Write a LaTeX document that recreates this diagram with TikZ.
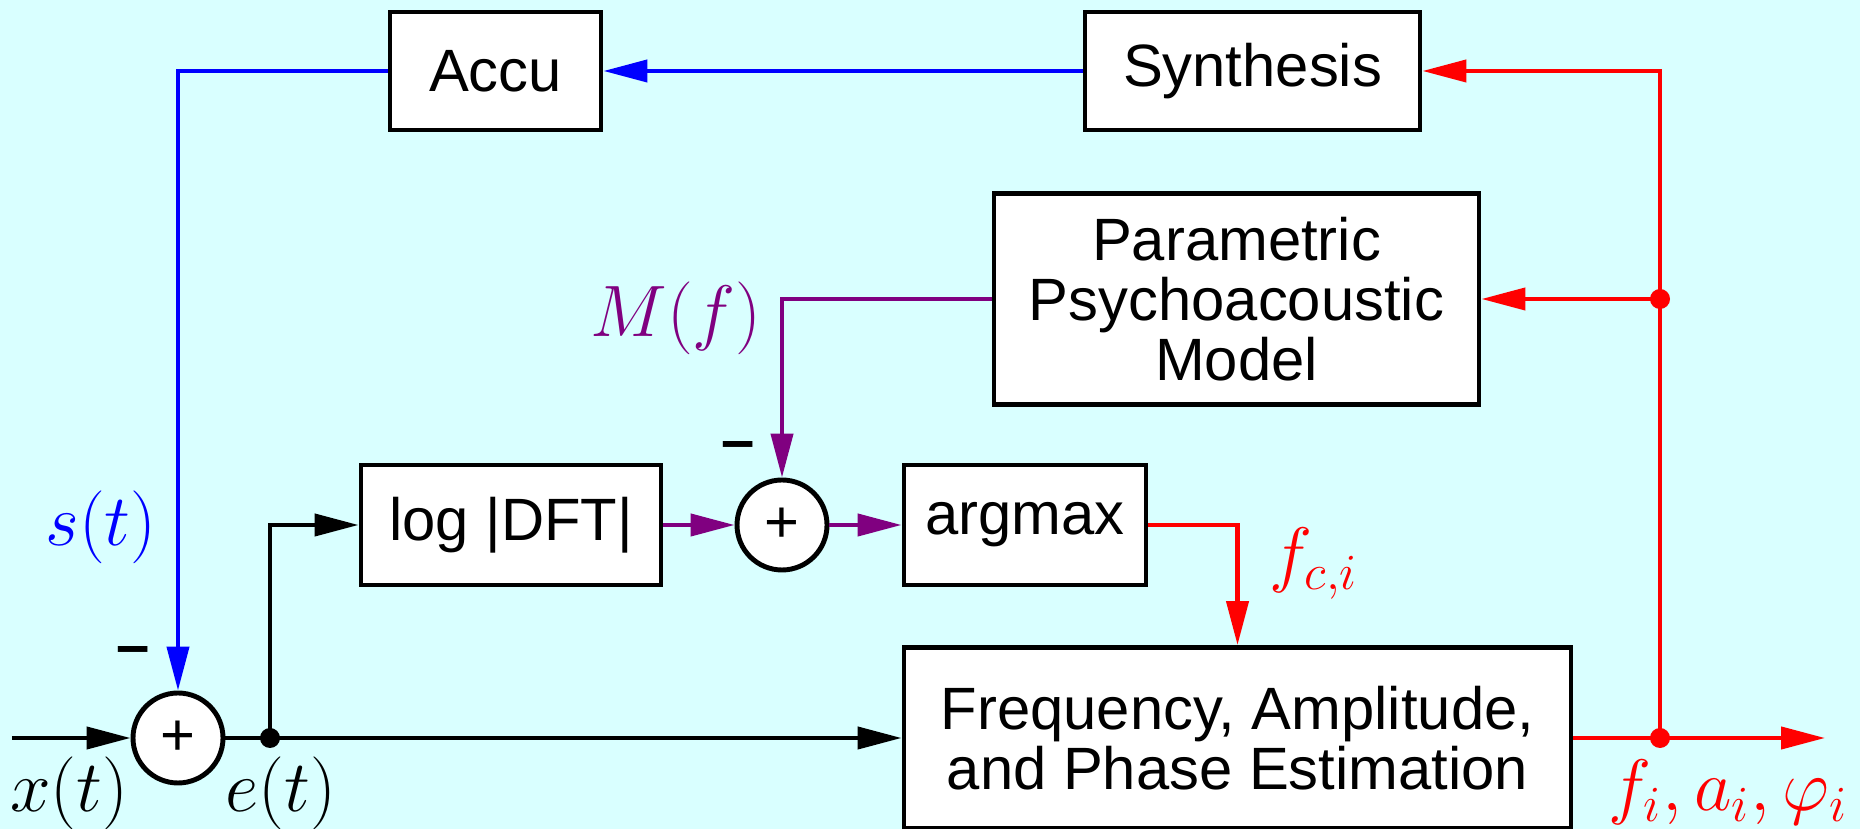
\documentclass[tikz,border=0pt]{standalone}
\usepackage{amsmath}
\usepackage[no-math]{fontspec}
\setmainfont{Liberation Sans}
\usetikzlibrary{arrows.meta,calc}
\definecolor{bgcyan}{RGB}{217,255,255}
\definecolor{sigpurple}{RGB}{128,0,128}

\begin{document}
\begin{tikzpicture}[>={Triangle[length=4.4mm,width=2.2mm]}, line width=1.2pt,
  font=\fontsize{17}{17}\selectfont,
  block/.style={draw, fill=white, line width=1.4pt, inner sep=0pt, align=center},
  summer/.style={draw, fill=white, circle, line width=1.4pt, minimum size=0.9cm, inner sep=0pt},
  lbl/.style={font=\fontsize{19.5}{20}\selectfont}]
\fill[bgcyan] (0,0) rectangle (18.6,8.29);
\useasboundingbox (0,0) rectangle (18.6,8.29);
\node[block, minimum width=2.11cm, minimum height=1.18cm] (accu) at (4.955,7.58) {Accu};
\node[block, minimum width=3.35cm, minimum height=1.18cm] (synth) at (12.525,7.58) {Synthesis};
\node[block, minimum width=4.85cm, minimum height=2.11cm] (psy) at (12.365,5.30) {Parametric\\Psychoacoustic\\Model};
\node[block, minimum width=3.0cm, minimum height=1.2cm] (dft) at (5.11,3.04) {log |DFT|};
\node[summer] (sum2) at (7.82,3.04) {+};
\node[block, minimum width=2.42cm, minimum height=1.2cm] (amax) at (10.25,3.04) {argmax};
\node[block, minimum width=6.67cm, minimum height=1.81cm] (est) at (12.375,0.91) {Frequency, Amplitude,\\and Phase Estimation};
\node[summer] (sum1) at (1.78,0.91) {+};
\coordinate (in) at (0.12,0.91);
\coordinate (ej) at (2.70,0.91);
\coordinate (oj) at (16.60,0.91);
\coordinate (out) at (18.25,0.91);
\coordinate (pj) at (16.60,5.30);
% main path
\draw[->] (in)--(sum1);
\draw[->] (sum1)--(est.west);
\draw[->] (ej) |- (dft.west);
\fill (ej) circle(0.1);
% masking
\draw[->, sigpurple] (dft)--(sum2);
\draw[->, sigpurple] (sum2)--(amax);
\draw[->, sigpurple] (psy.west) -| (sum2.north);
% parameters
\draw[->, red] (amax.east) -| (est.north);
\draw[->, red] (est.east)--(out);
\draw[->, red] (oj) |- (synth.east);
\draw[->, red] (pj)--(psy.east);
\fill[red] (oj) circle(0.1);
\fill[red] (pj) circle(0.1);
% resynthesis
\draw[->, blue] (synth.west)--(accu.east);
\draw[->, blue] (accu.west) -| (sum1.north);
% labels
\node[lbl, blue] (st) at (1.01,3.02) {$s(t)$};
\node (m1) at (1.33,1.73) {\bfseries --};
\node (m2) at (7.38,3.78) {\bfseries --};
\node[lbl, sigpurple] (mf) at (6.76,5.11) {$M(f)$};
\node[lbl, red] (fc) at (13.14,2.65) {$f_{c,i}$};
\node[lbl] (xt) at (0.69,0.36) {$x(t)$};
\node[lbl] (et) at (2.81,0.36) {$e(t)$};
\node[lbl, red] (fap) at (17.28,0.37) {$f_i, a_i, \varphi_i$};
\end{tikzpicture}
\end{document}
